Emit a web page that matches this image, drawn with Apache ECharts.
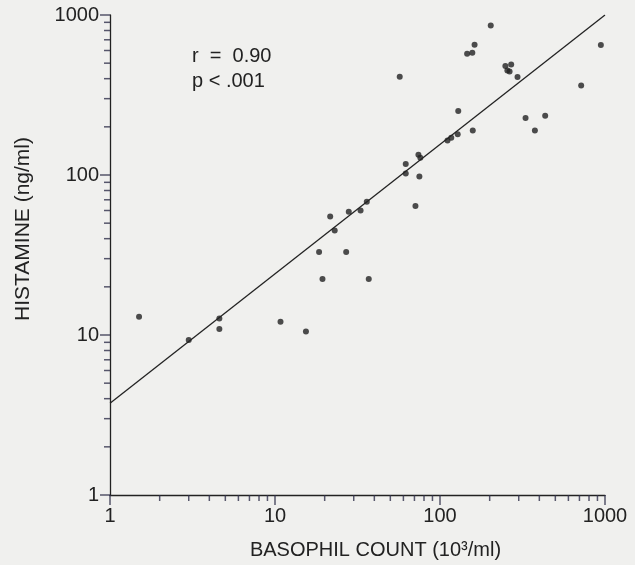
<!DOCTYPE html>
<html>
<head>
<meta charset="utf-8">
<script src="https://cdn.jsdelivr.net/npm/echarts@6/dist/echarts.min.js"></script>
<style>
  html, body { margin: 0; padding: 0; background: #f0f0ee; }
  #app { width: 635px; height: 565px; }
</style>
</head>
<body>
<div id="app"></div>
<script>
// basophil count (10^3/ml) vs histamine (ng/ml)
var basophil = [1.5, 3.0, 4.6, 4.6, 10.8, 15.4, 19.4, 37, 18.5, 27,
    23, 21.6, 28, 33, 36, 71, 62, 62, 75, 74,
    76, 111, 117, 128, 158, 129, 330, 434, 376, 717,
    295, 249, 270, 256, 264, 57, 146, 157, 162, 203, 944];
var histamine = [13, 9.3, 12.7, 10.9, 12.1, 10.5, 22.4, 22.4, 33, 33,
    45, 55, 59, 60, 68, 64, 117, 102, 98, 134,
    128, 164, 171, 180, 190, 251, 227, 235, 190, 362,
    409, 480, 491, 450, 443, 411, 573, 581, 652, 861, 649];

// regression line end points
var fitX = [1, 1000];
var fitY = [3.75, 1000];

var majorTicks = [1, 10, 100, 1000];
var minorTicks = [2, 3, 4, 5, 6, 7, 8, 9, 20, 30, 40, 50, 60, 70, 80, 90,
    200, 300, 400, 500, 600, 700, 800, 900];

var statLines = ['r  =  0.90', 'p < .001'];

var ink = '#222';
var tickInk = '#30304a';
var font = 'Liberation Sans';

var points = basophil.map(function (b, i) { return [b, histamine[i]]; });
var fit = fitX.map(function (x, i) { return [x, fitY[i]]; });

// tick marks drawn as thin rect symbols hanging off the axis lines
function tickSeries(onX) {
    var items = [];
    majorTicks.concat(minorTicks).forEach(function (v) {
        var len = majorTicks.indexOf(v) >= 0 ? 10 : 6;
        items.push({
            value: onX ? [v, 1] : [1, v],
            symbolSize: onX ? [1.5, len] : [len, 1.5],
            symbolOffset: onX ? [0, len / 2] : [-len / 2, 0]
        });
    });
    return {
        type: 'scatter',
        silent: true,
        clip: false,
        data: items,
        symbol: 'rect',
        itemStyle: { color: tickInk },
        z: 5
    };
}

function logAxis(name) {
    return {
        type: 'log',
        logBase: 10,
        min: 1,
        max: 1000,
        name: name,
        nameLocation: 'middle',
        nameTextStyle: { color: ink, fontSize: 20, fontFamily: font },
        axisLine: { show: true, lineStyle: { color: ink, width: 1.3 } },
        axisTick: { show: false },
        axisLabel: {
            color: ink, fontSize: 20, fontFamily: font,
            formatter: function (v) { return String(v); }
        },
        splitLine: { show: false }
    };
}

var xMain = logAxis('BASOPHIL COUNT (10³/ml)');
xMain.nameGap = 45;
xMain.nameTextStyle.padding = [0, 0, 0, 36];
xMain.axisLabel.margin = 11;

var yMain = logAxis('HISTAMINE (ng/ml)');
yMain.nameGap = 76;
yMain.nameRotate = 90;
yMain.nameTextStyle.fontSize = 21;
yMain.nameTextStyle.padding = [0, 0, 0, 52];
yMain.axisLabel.margin = 11;

var option = {
    backgroundColor: '#f0f0ee',
    animation: false,
    grid: { left: 110, right: 30, top: 15, bottom: 62 },
    xAxis: xMain,
    yAxis: yMain,
    graphic: [{
        type: 'text',
        left: 192,
        top: 44,
        style: { text: statLines.join('\n'), fill: ink, fontSize: 20, fontFamily: font, lineHeight: 25 }
    }],
    series: [
        tickSeries(true),
        tickSeries(false),
        {
            type: 'line',
            data: fit,
            symbol: 'none',
            lineStyle: { color: ink, width: 1.3 },
            z: 2
        }, {
            type: 'scatter',
            data: points,
            symbolSize: 6,
            itemStyle: { color: ink },
            z: 3
        }
    ]
};

var myChart = echarts.init(document.getElementById('app'));
myChart.setOption(option);
</script>
</body>
</html>
